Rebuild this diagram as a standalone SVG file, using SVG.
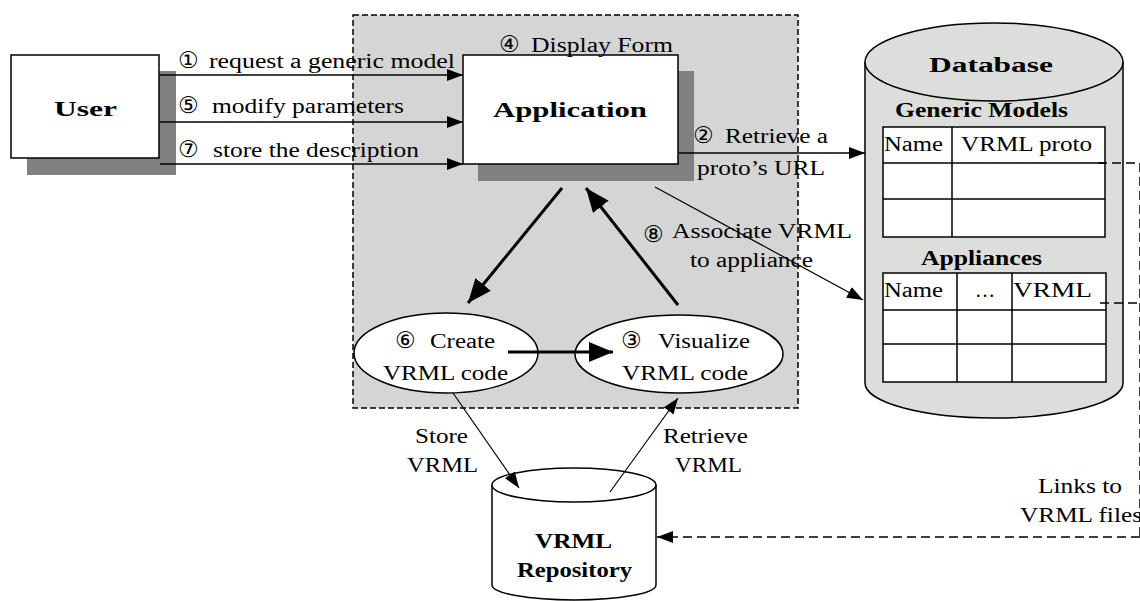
<svg xmlns="http://www.w3.org/2000/svg" width="1140" height="601" viewBox="0 0 1140 601">
<defs>
<style>
.t{font-family:"Liberation Serif","Times New Roman",serif;font-size:20px;fill:#000}
.b{font-weight:bold}
.c{font-family:"DejaVu Sans",sans-serif;font-size:23px;fill:#000}
.box{fill:#fff;stroke:#000;stroke-width:1.5}
.shadow{fill:#808080}
.ln{fill:none;stroke:#000;stroke-width:1.5}
.thin{fill:none;stroke:#000;stroke-width:1.2}
.thick{fill:none;stroke:#000;stroke-width:3}
.dash{fill:none;stroke:#000;stroke-width:1.5;stroke-dasharray:9,5}
.cell{fill:#fff;stroke:#000;stroke-width:1.5}
.db{fill:#dcdedc;stroke:#000;stroke-width:1.5}
</style>
<marker id="ah" viewBox="0 0 16 12" refX="16" refY="6" markerWidth="16" markerHeight="12" markerUnits="userSpaceOnUse" orient="auto">
<path d="M0,0 L16,6 L0,12 z" fill="#000"/>
</marker>
<marker id="ahb" viewBox="0 0 24 20" refX="24" refY="10" markerWidth="24" markerHeight="20" markerUnits="userSpaceOnUse" orient="auto">
<path d="M0,0 L24,10 L0,20 z" fill="#000"/>
</marker>
</defs>

<g id="system-boundary">
<rect x="353" y="15" width="445" height="393" fill="#d5d5d5" stroke="#000" stroke-width="1.5" stroke-dasharray="6,3"/>
</g>

<g id="user">
<rect class="shadow" x="27" y="71" width="149" height="104"/>
<rect class="box" x="11" y="55" width="148" height="103"/>
<text class="t b" x="54" y="116" font-size="26" textLength="63" lengthAdjust="spacingAndGlyphs">User</text>
</g>

<g id="application">
<rect class="shadow" x="478" y="71" width="216" height="110"/>
<rect class="box" x="463" y="55" width="215" height="109"/>
<text class="t b" x="493" y="117" font-size="26" textLength="154" lengthAdjust="spacingAndGlyphs">Application</text>
</g>

<g id="database">
<path class="db" d="M865,62 L865,383 A129,35 0 0 0 1123,383 L1123,62"/>
<ellipse class="db" cx="994" cy="62" rx="129" ry="39"/>
<text class="t b" x="929" y="72" font-size="27" textLength="124" lengthAdjust="spacingAndGlyphs">Database</text>
<text class="t b" x="895" y="117" font-size="22" textLength="173" lengthAdjust="spacingAndGlyphs">Generic Models</text>
<rect class="cell" x="883" y="127" width="222" height="110"/>
<path class="ln" d="M883,163 H1105 M883,199 H1105 M952,127 V237"/>
<text class="t" x="884" y="151" textLength="59" lengthAdjust="spacingAndGlyphs">Name</text>
<text class="t" x="961" y="151" textLength="131" lengthAdjust="spacingAndGlyphs">VRML proto</text>
<text class="t b" x="921" y="265" font-size="22" textLength="121" lengthAdjust="spacingAndGlyphs">Appliances</text>
<rect class="cell" x="883" y="273" width="223" height="109"/>
<path class="ln" d="M883,310 H1106 M883,344 H1106 M957,273 V382 M1012,273 V382"/>
<text class="t" x="884" y="297" textLength="59" lengthAdjust="spacingAndGlyphs">Name</text>
<text class="t" x="975" y="297">…</text>
<text class="t" x="1013" y="297" textLength="79" lengthAdjust="spacingAndGlyphs">VRML</text>
</g>

<g id="create-vrml">
<ellipse class="box" cx="446" cy="353" rx="92" ry="40"/>
<text class="c" x="395" y="348">⑥</text>
<text class="t" x="430" y="348" textLength="65" lengthAdjust="spacingAndGlyphs">Create</text>
<text class="t" x="383" y="380" textLength="125" lengthAdjust="spacingAndGlyphs">VRML code</text>
</g>

<g id="visualize-vrml">
<ellipse class="box" cx="679" cy="354" rx="104" ry="39"/>
<text class="c" x="621" y="348">③</text>
<text class="t" x="658" y="348" textLength="92" lengthAdjust="spacingAndGlyphs">Visualize</text>
<text class="t" x="622" y="380" textLength="126" lengthAdjust="spacingAndGlyphs">VRML code</text>
</g>

<g id="vrml-repository">
<path class="box" d="M492,485 L492,585 A82,15 0 0 0 656,585 L656,485"/>
<ellipse class="box" cx="574" cy="485" rx="82" ry="17"/>
<text class="t b" x="535" y="548" font-size="24" textLength="77" lengthAdjust="spacingAndGlyphs">VRML</text>
<text class="t b" x="517" y="577" font-size="24" textLength="115" lengthAdjust="spacingAndGlyphs">Repository</text>
</g>

<g id="connectors">
<line class="ln" x1="160" y1="75" x2="463" y2="75" marker-end="url(#ah)"/>
<line class="ln" x1="160" y1="122" x2="463" y2="122" marker-end="url(#ah)"/>
<line class="ln" x1="160" y1="164" x2="463" y2="164" marker-end="url(#ah)"/>
<line class="ln" x1="679" y1="153" x2="865" y2="153" marker-end="url(#ah)"/>
<line class="thin" x1="655" y1="187" x2="863" y2="300" marker-end="url(#ah)"/>
<line class="thick" x1="562" y1="188" x2="468" y2="303" marker-end="url(#ahb)"/>
<line class="thick" x1="678" y1="305" x2="586" y2="188" marker-end="url(#ahb)"/>
<line class="thick" x1="508" y1="352" x2="613" y2="352" marker-end="url(#ahb)"/>
<line class="thin" x1="453" y1="393" x2="519" y2="488" marker-end="url(#ah)"/>
<line class="thin" x1="610" y1="492" x2="678" y2="398" marker-end="url(#ah)"/>
<path class="dash" d="M1098,163 H1140 M1100,303 H1140 M1140,163 V537"/>
<path class="dash" d="M1140,537 H657" marker-end="url(#ah)"/>
</g>

<g id="labels">
<text class="c" x="178" y="68">①</text>
<text class="t" x="209" y="68" textLength="246" lengthAdjust="spacingAndGlyphs">request a generic model</text>
<text class="c" x="178" y="113">⑤</text>
<text class="t" x="212" y="113" textLength="192" lengthAdjust="spacingAndGlyphs">modify parameters</text>
<text class="c" x="178" y="157">⑦</text>
<text class="t" x="213" y="157" textLength="206" lengthAdjust="spacingAndGlyphs">store the description</text>
<text class="c" x="499" y="52">④</text>
<text class="t" x="531" y="52" textLength="142" lengthAdjust="spacingAndGlyphs">Display Form</text>
<text class="c" x="693" y="143">②</text>
<text class="t" x="725" y="143" textLength="103" lengthAdjust="spacingAndGlyphs">Retrieve a</text>
<text class="t" x="697" y="175" textLength="128" lengthAdjust="spacingAndGlyphs">proto’s URL</text>
<text class="c" x="643" y="242" font-size="36">⑧</text>
<text class="t" x="672" y="238" textLength="180" lengthAdjust="spacingAndGlyphs">Associate VRML</text>
<text class="t" x="690" y="267" textLength="123" lengthAdjust="spacingAndGlyphs">to appliance</text>
<text class="t" x="415" y="443" textLength="53" lengthAdjust="spacingAndGlyphs">Store</text>
<text class="t" x="407" y="472" textLength="71" lengthAdjust="spacingAndGlyphs">VRML</text>
<text class="t" x="663" y="443" textLength="85" lengthAdjust="spacingAndGlyphs">Retrieve</text>
<text class="t" x="675" y="472" textLength="67" lengthAdjust="spacingAndGlyphs">VRML</text>
<text class="t" x="1038" y="493" textLength="84" lengthAdjust="spacingAndGlyphs">Links to</text>
<text class="t" x="1020" y="522" textLength="122" lengthAdjust="spacingAndGlyphs">VRML files</text>
</g>
</svg>
